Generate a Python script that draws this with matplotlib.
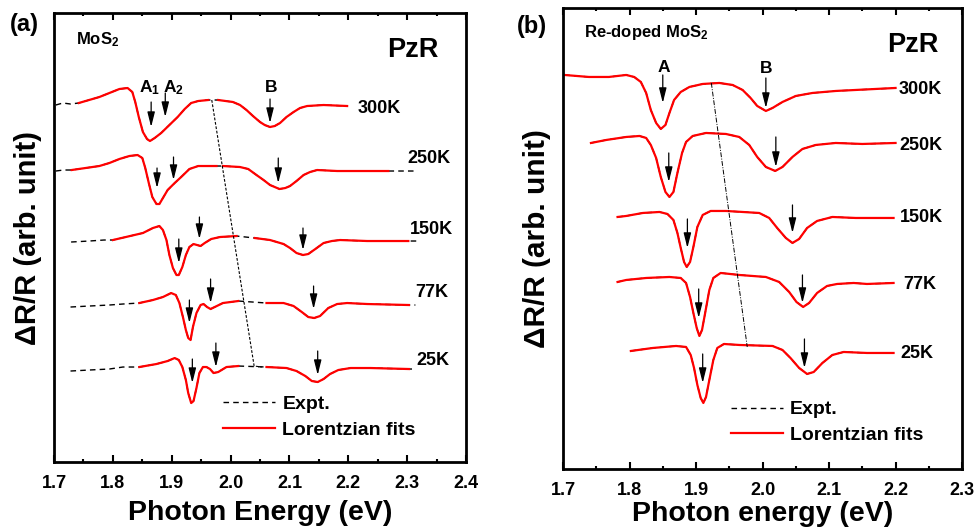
import numpy as np
import matplotlib.pyplot as plt
from matplotlib.lines import Line2D
from matplotlib.ticker import MultipleLocator, FormatStrFormatter

plt.rcParams['font.family'] = ['Liberation Sans', 'DejaVu Sans']
plt.rcParams['font.weight'] = 'bold'
plt.rcParams['mathtext.fontset'] = 'custom'
plt.rcParams['mathtext.bf'] = 'Liberation Sans:bold'
plt.rcParams['mathtext.rm'] = 'Liberation Sans:bold'
plt.rcParams['mathtext.default'] = 'bf'

nan = np.nan
temps = ['300K', '250K', '150K', '77K', '25K']

# ---- panel (a): MoS2, energies (eV) and dR/R (arb., offsets included) ----
a300_e = [1.742, 1.777, 1.794, 1.811, 1.825, 1.833, 1.838, 1.844, 1.851, 1.858, 1.863, 1.871, 1.882, 1.896,
          1.910, 1.922, 1.933, 1.945, 1.962, nan,
          1.979, 2.004, 2.016, 2.027, 2.038, 2.050, 2.058, 2.067, 2.075, 2.084, 2.095, 2.107, 2.118,
          2.130, 2.158, 2.198]
a300_fit = [359, 365, 369, 373, 374, 370, 360, 345, 330, 323, 321, 324, 329, 337,
            345, 353, 359, 361, 362, nan,
            362, 360, 357, 352, 346, 340, 337, 335, 336, 339, 345, 350, 354,
            356, 357, 356]
a250_e = [1.730, 1.777, 1.794, 1.811, 1.828, 1.842, 1.850, 1.855, 1.861, 1.867, 1.874, 1.879, 1.885, 1.893,
          1.905, 1.916, 1.930, 1.945, 1.976, nan,
          1.987, 2.016, 2.030, 2.044, 2.056, 2.067, 2.083, 2.093, 2.101, 2.112, 2.124, 2.135, 2.147,
          2.181, 2.220, 2.268]
a250_fit = [292, 296, 299, 303, 306, 307, 304, 294, 279, 265, 258, 258, 264, 272,
            279, 285, 293, 296, 296, nan,
            296, 295, 293, 287, 282, 277, 273, 274, 276, 281, 287, 290, 292,
            291, 291, 291]
a150_e = [1.800, 1.822, 1.851, 1.868, 1.879, 1.885, 1.891, 1.896, 1.902, 1.908, 1.912, 1.918, 1.924, 1.930,
          1.937, 1.943, 1.949, 1.956, 1.967, 1.982, 2.010, nan,
          2.041, 2.067, 2.090, 2.101, 2.112, 2.123, 2.132, 2.144, 2.158, 2.172, 2.186, 2.232, 2.302]
a150_fit = [222, 225, 229, 234, 236, 232, 222, 207, 194, 187, 187, 195, 207, 215,
            218, 217, 216, 219, 223, 225, 226, nan,
            224, 222, 218, 214, 209, 207, 208, 213, 219, 221, 222, 221, 221]
a77_e = [1.845, 1.868, 1.885, 1.899, 1.907, 1.913, 1.919, 1.924, 1.928, 1.932, 1.936, 1.942, 1.949, 1.954,
         1.960, 1.966, 1.973, 1.987, 2.013, nan,
         2.061, 2.090, 2.107, 2.121, 2.132, 2.142, 2.152, 2.166, 2.181, 2.198, 2.232, 2.303]
a77_fit = [159, 162, 165, 169, 167, 159, 145, 132, 124, 122, 135, 149, 157, 158,
           155, 153, 155, 159, 161, nan,
           159, 159, 156, 150, 145, 144, 146, 154, 158, 159, 158, 157]
a25_e = [1.845, 1.874, 1.893, 1.905, 1.912, 1.918, 1.924, 1.928, 1.933, 1.937, 1.942, 1.947, 1.953, 1.959,
         1.965, 1.971, 1.979, 1.993, 2.013, nan,
         2.061, 2.095, 2.112, 2.127, 2.138, 2.148, 2.158, 2.169, 2.183, 2.204, 2.238, 2.303]
a25_fit = [95, 98, 101, 104, 102, 95, 82, 69, 59, 61, 74, 89, 95, 95,
           93, 89, 90, 95, 96, nan,
           95, 94, 91, 86, 81, 80, 83, 88, 92, 94, 94, 93]

# experimental wings outside the fitted range
a300_left_e, a300_left = [1.703, 1.715, 1.728], [357, 359, 358]
a300_right_e, a300_right = [], []
a250_left_e, a250_left = [1.703, 1.716], [291, 292]
a250_right_e, a250_right = [2.290, 2.311], [291, 291]
a150_left_e, a150_left = [1.729, 1.760, 1.785], [220, 221, 222]
a150_right_e, a150_right = [2.318], [221]
a77_left_e, a77_left = [1.728, 1.760, 1.794, 1.817], [155, 156, 157, 158]
a77_right_e, a77_right = [2.314], [157]
a25_left_e, a25_left = [1.728, 1.760, 1.794, 1.817], [91, 92, 93, 95]
a25_right_e, a25_right = [2.311], [93]

# arrows (energy, top, tip)
a_arrow_e = [1.865, 1.889, 2.067, 1.875, 1.903, 2.081, 1.912, 1.947, 2.123, 1.930, 1.966, 2.141, 1.935, 1.975, 2.148]
a_arrow_top = [360, 369, 363, 294, 305, 304, 223, 245, 234, 162, 183, 176, 103, 119, 111]
a_arrow_tip = [335, 345, 339, 274, 282, 279, 199, 223, 212, 139, 159, 153, 79, 95, 87]
a_guide_e = [1.968, 2.040, 2.053]
a_guide = [362, 96, 95]
a_temp_e = [2.215, 2.301, 2.304, 2.313, 2.316]
a_temp_y = [349, 299, 228, 165, 97]

# ---- panel (b): Re-doped MoS2 ----
b300_e = [1.702, 1.739, 1.769, 1.795, 1.807, 1.817, 1.825, 1.832, 1.840, 1.847, 1.854, 1.860, 1.867, 1.877,
          1.890, 1.910, 1.935, 1.955, 1.970, 1.982, 1.992, 2.005, 2.015, 2.030, 2.050, 2.075, 2.110,
          2.140, 2.200]
b300_fit = [394, 392, 392, 394, 392, 387, 376, 359, 346, 340, 344, 356, 369, 377,
            382, 385, 386, 384, 379, 371, 363, 358, 361, 367, 373, 376, 378,
            379, 381]
b250_e = [1.742, 1.765, 1.795, 1.815, 1.825, 1.832, 1.840, 1.847, 1.854, 1.860, 1.866, 1.872, 1.879, 1.885,
          1.895, 1.915, 1.945, 1.965, 1.980, 1.992, 2.005, 2.019, 2.030, 2.045, 2.060, 2.080, 2.110,
          2.150, 2.200]
b250_fit = [326, 329, 332, 333, 331, 324, 311, 292, 277, 272, 277, 296, 316, 327,
            333, 336, 335, 332, 324, 312, 302, 298, 302, 312, 320, 324, 326,
            325, 326]
b150_e = [1.782, 1.795, 1.820, 1.845, 1.857, 1.866, 1.872, 1.877, 1.882, 1.886, 1.891, 1.896, 1.902, 1.910,
          1.922, 1.945, 1.995, 2.010, 2.022, 2.035, 2.045, 2.055, 2.067, 2.082, 2.105, 2.140, 2.197]
b150_fit = [252, 253, 256, 257, 255, 249, 236, 221, 207, 202, 207, 222, 242, 254,
            258, 258, 256, 251, 241, 231, 226, 230, 241, 248, 252, 251, 251]
b77_e = [1.782, 1.795, 1.825, 1.860, 1.877, 1.885, 1.891, 1.896, 1.901, 1.905, 1.909, 1.914, 1.920, 1.926,
         1.937, 1.965, 2.005, 2.025, 2.040, 2.051, 2.061, 2.070, 2.082, 2.097, 2.112, 2.137, 2.157, 2.197]
b77_fit = [187, 189, 191, 192, 191, 186, 172, 156, 141, 133, 139, 157, 179, 191,
           196, 194, 192, 187, 177, 167, 162, 166, 176, 183, 185, 186, 185, 186]
b25_e = [1.802, 1.835, 1.870, 1.885, 1.892, 1.897, 1.902, 1.907, 1.911, 1.915, 1.920, 1.926, 1.932, 1.942,
         1.965, 2.015, 2.030, 2.042, 2.055, 2.067, 2.077, 2.090, 2.105, 2.122, 2.157, 2.197]
b25_fit = [118, 121, 123, 122, 114, 101, 84, 71, 66, 72, 89, 109, 121, 125,
           124, 123, 119, 111, 101, 95, 97, 106, 114, 117, 116, 116]

b_arrow_e = [1.850, 2.005, 1.859, 2.020, 1.887, 2.045, 1.904, 2.060, 1.910, 2.063]
b_arrow_top = [394, 391, 316, 332, 250, 264, 180, 194, 115, 130]
b_arrow_tip = [366, 361, 287, 302, 221, 236, 151, 166, 86, 101]
b_guide_e = [1.923, 1.977]
b_guide = [386, 122]
b_temp_e = [2.204, 2.206, 2.206, 2.211, 2.207]
b_temp_y = [375, 319, 247, 180, 111]

RED = '#ff0000'
EXP_DASH = (0, (4, 3))

fig = plt.figure(figsize=(9.79, 5.31), dpi=100)
ax_a = fig.add_axes([0.0552, 0.1299, 0.4208, 0.8456])
ax_b = fig.add_axes([0.5751, 0.1168, 0.4076, 0.8682])


def style_axes(ax, xmax, ytop, pad):
    ax.set_xlim(1.7, xmax)
    ax.set_ylim(0, ytop)
    ax.xaxis.set_major_locator(MultipleLocator(0.1))
    ax.xaxis.set_minor_locator(MultipleLocator(0.05))
    ax.xaxis.set_major_formatter(FormatStrFormatter('%.1f'))
    ax.set_yticks([])
    ax.tick_params(axis='x', which='major', direction='in', length=5, width=1.5,
                   top=True, labelsize=13, pad=pad)
    ax.tick_params(axis='x', which='minor', direction='in', length=2.5, width=1.5, top=True)
    for s in ax.spines.values():
        s.set_linewidth(2)


# panel (a)
a_curves = [(a300_e, a300_fit, a300_left_e, a300_left, a300_right_e, a300_right),
            (a250_e, a250_fit, a250_left_e, a250_left, a250_right_e, a250_right),
            (a150_e, a150_fit, a150_left_e, a150_left, a150_right_e, a150_right),
            (a77_e, a77_fit, a77_left_e, a77_left, a77_right_e, a77_right),
            (a25_e, a25_fit, a25_left_e, a25_left, a25_right_e, a25_right)]
for e, fit, le, lv, re_, rv in a_curves:
    e = np.array(e)
    fit = np.array(fit, dtype=float)
    ok = ~np.isnan(e)
    ax_a.plot(list(le) + list(e[ok]) + list(re_), list(lv) + list(fit[ok]) + list(rv),
              color='k', lw=1, linestyle=EXP_DASH)
    ax_a.plot(e, fit, color=RED, lw=1.6, solid_joinstyle='round')

for e, top, tip in zip(a_arrow_e, a_arrow_top, a_arrow_tip):
    ax_a.annotate('', xy=(e, tip), xytext=(e, top),
                  arrowprops=dict(arrowstyle='-|>,head_length=0.6,head_width=0.15',
                                  color='k', lw=0.9, mutation_scale=15, shrinkA=0, shrinkB=0))
ax_a.plot(a_guide_e, a_guide, color='k', lw=0.8, linestyle=(0, (2.5, 1.5)))
for t, e, y in zip(temps, a_temp_e, a_temp_y):
    ax_a.text(e, y, t, fontsize=13, fontweight='bold', ha='left', va='baseline')
ax_a.text(1.863, 370, r'A$_1$', fontsize=12.5, ha='center', va='baseline')
ax_a.text(1.903, 370, r'A$_2$', fontsize=12.5, ha='center', va='baseline')
ax_a.text(2.069, 370, 'B', fontsize=12.5, ha='center', va='baseline')
ax_a.text(1.7375, 418, r'MoS$_2$', fontsize=12, ha='left', va='baseline')
ax_a.text(2.2666, 405.5, 'PzR', fontsize=19.5, ha='left', va='baseline')
style_axes(ax_a, 2.4, 449, 9)
ax_a.set_xlabel('Photon Energy (eV)', fontsize=20.5, fontweight='bold', labelpad=6)
ax_a.set_ylabel(r'ΔR/R (arb. unit)', fontsize=21, fontweight='bold', labelpad=9)

# panel (b)
b_curves = [(b300_e, b300_fit), (b250_e, b250_fit), (b150_e, b150_fit),
            (b77_e, b77_fit), (b25_e, b25_fit)]
for e, fit in b_curves:
    ax_b.plot(e, fit, color='k', lw=1, linestyle=EXP_DASH)
    ax_b.plot(e, fit, color=RED, lw=1.6, solid_joinstyle='round')
for e, top, tip in zip(b_arrow_e, b_arrow_top, b_arrow_tip):
    ax_b.annotate('', xy=(e, tip), xytext=(e, top),
                  arrowprops=dict(arrowstyle='-|>,head_length=0.6,head_width=0.15',
                                  color='k', lw=0.9, mutation_scale=15, shrinkA=0, shrinkB=0))
ax_b.plot(b_guide_e, b_guide, color='k', lw=0.7, linestyle=(0, (5, 1.5, 1, 1.5)))
for t, e, y in zip(temps, b_temp_e, b_temp_y):
    ax_b.text(e, y, t, fontsize=13, fontweight='bold', ha='left', va='baseline')
ax_b.text(1.852, 397, 'A', fontsize=12.5, ha='center', va='baseline')
ax_b.text(2.0055, 396, 'B', fontsize=12.5, ha='center', va='baseline')
ax_b.text(1.7315, 431.7, r'Re-doped MoS$_2$', fontsize=12, ha='left', va='baseline')
ax_b.text(2.1875, 416.5, 'PzR', fontsize=19.5, ha='left', va='baseline')
style_axes(ax_b, 2.3, 461, 9.5)
ax_b.set_xlabel('Photon energy (eV)', fontsize=20.5, fontweight='bold', labelpad=1)
ax_b.set_ylabel(r'ΔR/R (arb. unit)', fontsize=21.5, fontweight='bold', labelpad=9)

handles = [Line2D([], [], color='k', lw=1, linestyle=EXP_DASH),
           Line2D([], [], color=RED, lw=1.6)]
for ax, x0, y0 in [(ax_a, 0.41, 0.148), (ax_b, 0.42, 0.148)]:
    ax.legend(handles, ['Expt.', 'Lorentzian fits'], loc='upper left', bbox_to_anchor=(x0, y0),
              frameon=False, borderpad=0, borderaxespad=0, handlelength=2.7,
              handletextpad=0.35, labelspacing=0.4, prop={'size': 14, 'weight': 'bold'})

fig.text(24 / 979, 1 - 25 / 531, '(a)', fontsize=17, fontweight='bold', ha='center', va='center')
fig.text(532 / 979, 1 - 26 / 531, '(b)', fontsize=17, fontweight='bold', ha='center', va='center')

fig.savefig('out.png', dpi=100)
